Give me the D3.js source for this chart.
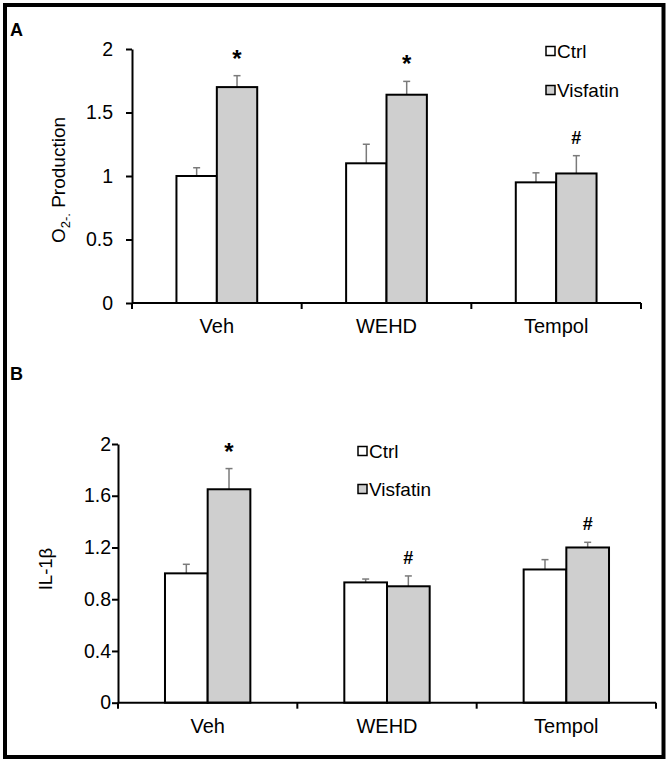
<!DOCTYPE html>
<html>
<head>
<meta charset="utf-8">
<script src="https://cdn.jsdelivr.net/npm/d3@7"></script>
<style>
  body { margin: 0; background: #fff; }
  svg text { font-family: "Liberation Sans", Arial, sans-serif; fill: #000; }
</style>
</head>
<body>
<svg id="Vis" width="668" height="765"></svg>
<script>
/*
* DATA
*/

const categories = ["Veh", "WEHD", "Tempol"];
const seriesNames = ["Ctrl", "Visfatin"];

/* Panel A: O2- production */
const o2Ctrl = [1.00, 1.10, 0.95];
const o2CtrlErr = [0.065, 0.15, 0.075];
const o2Visfatin = [1.70, 1.64, 1.02];
const o2VisfatinErr = [0.09, 0.105, 0.14];
const o2Marks = ["*", "*", "#"];
const o2Ticks = [0, 0.5, 1, 1.5, 2];

/* Panel B: IL-1beta */
const ilCtrl = [1.00, 0.93, 1.03];
const ilCtrlErr = [0.07, 0.026, 0.076];
const ilVisfatin = [1.65, 0.90, 1.20];
const ilVisfatinErr = [0.16, 0.08, 0.04];
const ilMarks = ["*", "#", "#"];
const ilTicks = [0, 0.4, 0.8, 1.2, 1.6, 2];

const fills = { Ctrl: "#ffffff", Visfatin: "#cfcfcf" };

/*
* SETUP
*/

const svg = d3.select("svg#Vis");

/* outer frame */
svg.append("rect")
  .attr("x", 5)
  .attr("y", 5)
  .attr("width", 658.5)
  .attr("height", 752)
  .attr("fill", "none")
  .attr("stroke", "#000")
  .attr("stroke-width", 4);

const panels = [
  {
    letter: "A", letterY: 35.5,
    left: 132, right: 641, top: 49, bottom: 303,
    ticks: o2Ticks, tickPad: 13,
    ctrl: o2Ctrl, ctrlErr: o2CtrlErr,
    vis: o2Visfatin, visErr: o2VisfatinErr,
    marks: o2Marks,
    catY: 333,
    labelX: 65, labelY: 180,
    legendX: 546, legendY: [51, 90]
  },
  {
    letter: "B", letterY: 379.5,
    left: 118, right: 656, top: 444, bottom: 702.7,
    ticks: ilTicks, tickPad: 1,
    ctrl: ilCtrl, ctrlErr: ilCtrlErr,
    vis: ilVisfatin, visErr: ilVisfatinErr,
    marks: ilMarks,
    catY: 733,
    labelX: 52, labelY: 569,
    legendX: 358, legendY: [451, 489]
  }
];

panels.forEach(drawPanel);

/*
* PANEL DRAWING
*/
function drawPanel(p) {

  const g = svg.append("g");

  /* panel letter */
  g.append("text")
    .attr("x", 10)
    .attr("y", p.letterY)
    .style("font-size", "18px")
    .style("font-weight", "bold")
    .text(p.letter);

  /* scales */
  const x = d3.scaleBand()
    .domain(categories)
    .range([p.left, p.right])
    .paddingInner(0.524)
    .paddingOuter(0.262);

  const xSub = d3.scaleBand()
    .domain(seriesNames)
    .range([0, x.bandwidth()]);

  const y = d3.scaleLinear()
    .domain([0, 2])
    .range([p.bottom, p.top]);

  const rows = categories.map((c, i) => ({
    cat: c,
    mark: p.marks[i],
    vals: [
      { name: "Ctrl", v: p.ctrl[i], e: p.ctrlErr[i] },
      { name: "Visfatin", v: p.vis[i], e: p.visErr[i] }
    ]
  }));

  /* error bars (drawn first, bar tops cover their base) */
  const groups = g.selectAll("g.group")
    .data(rows)
    .join("g")
      .attr("class", "group")
      .attr("transform", d => translate(x(d.cat), 0));

  const err = groups.selectAll("g.err")
    .data(d => d.vals)
    .join("g")
      .attr("class", "err")
      .attr("stroke", "#7a7a7a")
      .attr("stroke-width", 1.5);

  err.append("line")
    .attr("x1", d => xSub(d.name) + xSub.bandwidth() / 2)
    .attr("x2", d => xSub(d.name) + xSub.bandwidth() / 2)
    .attr("y1", d => y(d.v))
    .attr("y2", d => y(d.v + d.e));

  err.append("line")
    .attr("x1", d => xSub(d.name) + xSub.bandwidth() / 2 - 3.5)
    .attr("x2", d => xSub(d.name) + xSub.bandwidth() / 2 + 3.5)
    .attr("y1", d => y(d.v + d.e))
    .attr("y2", d => y(d.v + d.e));

  /* bars */
  groups.selectAll("rect.bar")
    .data(d => d.vals)
    .join("rect")
      .attr("class", "bar")
      .attr("x", d => xSub(d.name))
      .attr("y", d => y(d.v))
      .attr("width", xSub.bandwidth())
      .attr("height", d => y(0) - y(d.v))
      .attr("fill", d => fills[d.name])
      .attr("stroke", "#000")
      .attr("stroke-width", 2);

  /* significance marks above the Visfatin bar */
  groups.append("text")
    .attr("x", xSub("Visfatin") + xSub.bandwidth() / 2)
    .attr("y", d => y(d.vals[1].v + d.vals[1].e) - (d.mark === "*" ? 9 : 12))
    .attr("text-anchor", "middle")
    .style("font-size", d => d.mark === "*" ? "24px" : "18px")
    .style("font-weight", "bold")
    .text(d => d.mark);

  /* y axis */
  const yAxis = d3.axisLeft(y)
    .tickValues(p.ticks)
    .tickFormat(d3.format("~g"))
    .tickSizeInner(6)
    .tickSizeOuter(0)
    .tickPadding(p.tickPad);

  const ya = g.append("g")
    .attr("transform", translate(p.left, 0))
    .call(yAxis);
  ya.select(".domain").attr("stroke", "#000").attr("stroke-width", 2);
  ya.selectAll(".tick line").attr("stroke", "#000").attr("stroke-width", 2);
  ya.selectAll(".tick text")
    .style("font-size", "19.5px")
    .style("font-family", "'Liberation Sans', Arial, sans-serif")
    .attr("fill", "#000");

  /* x axis: line with ticks on the category boundaries */
  const xa = g.append("g");
  xa.append("line")
    .attr("x1", p.left)
    .attr("x2", p.right)
    .attr("y1", y(0))
    .attr("y2", y(0))
    .attr("stroke", "#000")
    .attr("stroke-width", 2);

  const bounds = d3.range(categories.length + 1).map(i => p.left + i * x.step());
  xa.selectAll("line.xtick")
    .data(bounds)
    .join("line")
      .attr("class", "xtick")
      .attr("x1", d => d)
      .attr("x2", d => d)
      .attr("y1", y(0))
      .attr("y2", y(0) + 6)
      .attr("stroke", "#000")
      .attr("stroke-width", 2);

  xa.selectAll("text.cat")
    .data(categories)
    .join("text")
      .attr("class", "cat")
      .attr("x", d => x(d) + x.bandwidth() / 2)
      .attr("y", p.catY)
      .attr("text-anchor", "middle")
      .style("font-size", "20px")
      .text(d => d);

  /* y axis title */
  const title = g.append("text")
    .attr("transform", translate(p.labelX, p.labelY) + " rotate(-90)")
    .attr("text-anchor", "middle")
    .style("font-size", "19px");

  if (p.letter === "A") {
    title.append("tspan").text("O");
    title.append("tspan")
      .attr("dy", 5)
      .style("font-size", "13px")
      .text("2-.");
    title.append("tspan")
      .attr("dy", -5)
      .text(" Production");
  } else {
    title.style("font-size", "18.5px").text("IL-1\u03b2");
  }

  /* legend */
  const legend = g.selectAll("g.legend")
    .data(seriesNames)
    .join("g")
      .attr("class", "legend")
      .attr("transform", (d, i) => translate(p.legendX, p.legendY[i]));

  legend.append("rect")
    .attr("x", 0)
    .attr("y", -4.5)
    .attr("width", 9)
    .attr("height", 9)
    .attr("fill", d => fills[d])
    .attr("stroke", "#000")
    .attr("stroke-width", 1.5);

  legend.append("text")
    .attr("x", 11)
    .attr("y", 7)
    .style("font-size", "19px")
    .text(d => d);
}

/*
* HELPER FUNCTIONS
*/
function translate(x, y) {
  return 'translate(' + String(x) + ',' + String(y) + ')';
}
</script>
</body>
</html>
